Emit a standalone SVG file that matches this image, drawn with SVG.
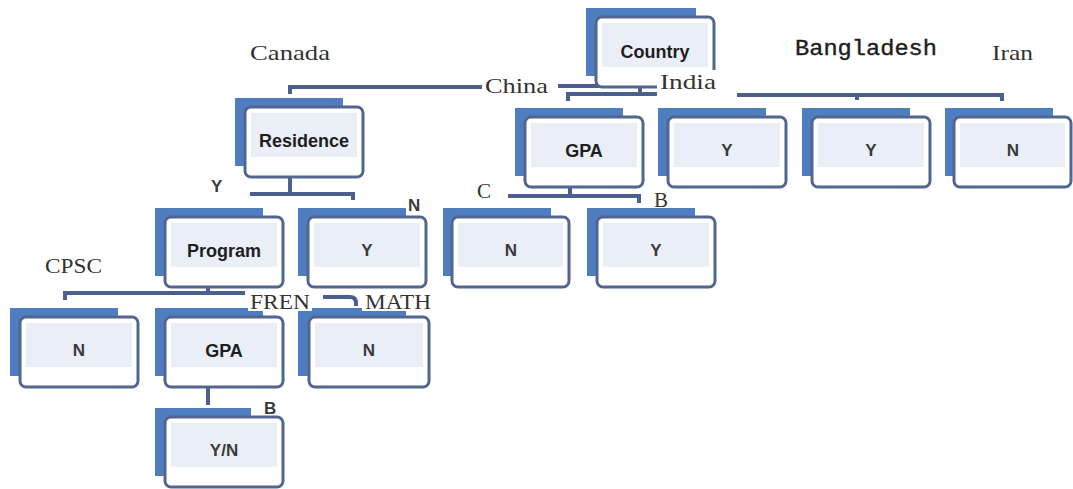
<svg xmlns="http://www.w3.org/2000/svg" width="1073" height="489" viewBox="0 0 1073 489">
<style>
.back{fill:#4e7ec0}
.front{fill:#ffffff;stroke:#53668f;stroke-width:3}
.inner{fill:#e9eef7}
.nt{font-family:"Liberation Sans",Arial,sans-serif;font-size:18px;font-weight:bold;fill:#1e1e1e;text-anchor:middle}
.nv{font-family:"Liberation Sans",Arial,sans-serif;font-size:17px;font-weight:bold;fill:#3a3a3a;text-anchor:middle}
.lbl{font-family:"Liberation Serif","Times New Roman",serif;font-size:21px;fill:#333333}
.mono{font-family:"Liberation Mono","Courier New",monospace;font-size:22px;fill:#1e1e1e;stroke:#1e1e1e;stroke-width:0.4}
.sl{font-family:"Liberation Sans",Arial,sans-serif;font-size:17px;font-weight:bold;fill:#3a3a3a}
.conn path{fill:none;stroke:#4c6090;stroke-width:4}
</style>
<rect width="1073" height="489" fill="#ffffff"/>
<g id="connectors" class="conn">
<path d="M290,94 V87 H485"/>
<path d="M558,86 H658"/>
<path d="M568,101 V94 H657"/>
<path d="M640,84 V94"/>
<path d="M737,95 H1002 V101"/>
<path d="M857,95 V100"/>
<path d="M290,177 V194"/>
<path d="M250,194 H353 V200"/>
<path d="M570,187 V196"/>
<path d="M508,196 H639 V203"/>
<path d="M208,287 V293"/>
<path d="M65,300 V293 H245"/>
<path d="M323,297 H350 Q356,297 356,303 V306"/>
<path d="M208,387 V405"/>
</g>
<g id="n-country"><rect class="back" x="586" y="8" width="110" height="68"/><rect class="front" x="596" y="17" width="118" height="70" rx="6"/><rect class="inner" x="602" y="23" width="106" height="44"/><text class="nt" x="655" y="58">Country</text></g>
<g id="n-residence"><rect class="back" x="235" y="98" width="108" height="68"/><rect class="front" x="245" y="107" width="118" height="70" rx="6"/><rect class="inner" x="251" y="113" width="106" height="44"/><text class="nt" x="304" y="147">Residence</text></g>
<g id="n-gpa1"><rect class="back" x="515" y="108" width="108" height="68"/><rect class="front" x="525" y="117" width="118" height="70" rx="6"/><rect class="inner" x="531" y="123" width="106" height="44"/><text class="nt" x="584" y="157">GPA</text></g>
<g id="n-india"><rect class="back" x="658" y="108" width="108" height="68"/><rect class="front" x="668" y="117" width="118" height="70" rx="6"/><rect class="inner" x="674" y="123" width="106" height="44"/><text class="nv" x="727" y="156">Y</text></g>
<g id="n-bangladesh"><rect class="back" x="802" y="108" width="108" height="68"/><rect class="front" x="812" y="117" width="118" height="70" rx="6"/><rect class="inner" x="818" y="123" width="106" height="44"/><text class="nv" x="871" y="156">Y</text></g>
<g id="n-iran"><rect class="back" x="945" y="108" width="108" height="68"/><rect class="front" x="954" y="117" width="117" height="70" rx="6"/><rect class="inner" x="960" y="123" width="105" height="44"/><text class="nv" x="1013" y="156">N</text></g>
<g id="n-gpa1-c"><rect class="back" x="443" y="208" width="108" height="68"/><rect class="front" x="452" y="217" width="117" height="70" rx="6"/><rect class="inner" x="458" y="223" width="105" height="44"/><text class="nv" x="511" y="256">N</text></g>
<g id="n-gpa1-b"><rect class="back" x="587" y="208" width="108" height="68"/><rect class="front" x="597" y="217" width="118" height="70" rx="6"/><rect class="inner" x="603" y="223" width="106" height="44"/><text class="nv" x="656" y="256">Y</text></g>
<g id="n-program"><rect class="back" x="155" y="208" width="108" height="68"/><rect class="front" x="165" y="217" width="118" height="70" rx="6"/><rect class="inner" x="171" y="223" width="106" height="44"/><text class="nt" x="224" y="257">Program</text></g>
<g id="n-res-n"><rect class="back" x="298" y="208" width="108" height="68"/><rect class="front" x="308" y="217" width="118" height="70" rx="6"/><rect class="inner" x="314" y="223" width="106" height="44"/><text class="nv" x="367" y="256">Y</text></g>
<g id="n-cpsc"><rect class="back" x="10" y="308" width="108" height="68"/><rect class="front" x="20" y="317" width="118" height="70" rx="6"/><rect class="inner" x="26" y="323" width="106" height="44"/><text class="nv" x="79" y="356">N</text></g>
<g id="n-gpa2"><rect class="back" x="155" y="308" width="108" height="68"/><rect class="front" x="165" y="317" width="118" height="70" rx="6"/><rect class="inner" x="171" y="323" width="106" height="44"/><text class="nt" x="224" y="357">GPA</text></g>
<g id="n-math"><rect class="back" x="298" y="308" width="108" height="68"/><rect class="front" x="309" y="317" width="120" height="70" rx="6"/><rect class="inner" x="315" y="323" width="108" height="44"/><text class="nv" x="369" y="356">N</text></g>
<g id="n-yn"><rect class="back" x="155" y="408" width="96" height="68"/><rect class="front" x="165" y="417" width="118" height="70" rx="6"/><rect class="inner" x="171" y="423" width="106" height="44"/><text class="nv" x="224" y="456">Y/N</text></g>
<g id="labels">
<text class="lbl" x="250" y="60" textLength="80" lengthAdjust="spacingAndGlyphs">Canada</text>
<rect x="482" y="72" width="70" height="24" fill="#ffffff"/>
<text class="lbl" x="485" y="93" textLength="63" lengthAdjust="spacingAndGlyphs">China</text>
<rect x="657" y="70" width="76" height="22" fill="#ffffff"/>
<text class="lbl" x="660" y="89" textLength="56" lengthAdjust="spacingAndGlyphs">India</text>
<text class="mono" x="795" y="55" textLength="142" lengthAdjust="spacingAndGlyphs">Bangladesh</text>
<text class="lbl" x="992" y="60" textLength="41" lengthAdjust="spacingAndGlyphs">Iran</text>
<text class="sl" x="211" y="192">Y</text>
<text class="sl" x="408" y="211">N</text>
<text class="lbl" x="477" y="198">C</text>
<text class="lbl" x="654" y="207">B</text>
<text class="lbl" x="45" y="273" textLength="57" lengthAdjust="spacingAndGlyphs">CPSC</text>
<rect x="248" y="291" width="64" height="20" fill="#ffffff"/>
<text class="lbl" x="250" y="309" textLength="60" lengthAdjust="spacingAndGlyphs">FREN</text>
<rect x="362" y="291" width="72" height="20" fill="#ffffff"/>
<text class="lbl" x="365" y="309" textLength="66" lengthAdjust="spacingAndGlyphs">MATH</text>
<text class="sl" x="264" y="414">B</text>
</g>
</svg>
